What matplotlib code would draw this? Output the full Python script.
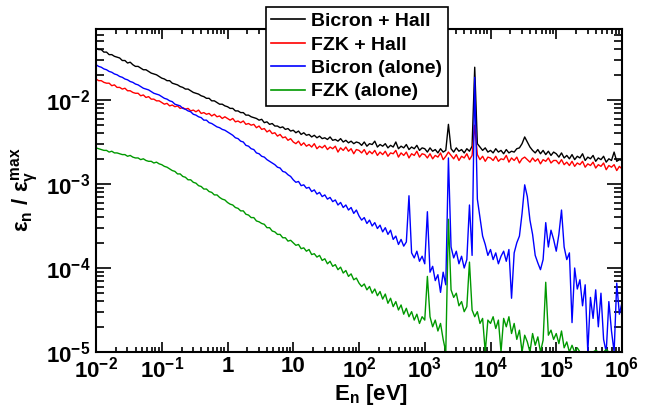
import numpy as np
import matplotlib
matplotlib.use('Agg')
import matplotlib.pyplot as plt
from matplotlib.ticker import FixedLocator, FixedFormatter, LogLocator, NullFormatter

plt.rcParams['font.family'] = ['Liberation Sans', 'DejaVu Sans']
plt.rcParams['font.weight'] = 'bold'
plt.rcParams['mathtext.fontset'] = 'custom'
plt.rcParams['mathtext.rm'] = 'Liberation Sans:bold'
plt.rcParams['mathtext.bf'] = 'Liberation Sans:bold'
plt.rcParams['mathtext.it'] = 'Liberation Sans'

# histogram binning: 25 log bins per decade, 1e-2 .. 1e6 eV
log_e = np.linspace(-2, 6, 201)

# log10(eps_n / eps_gamma_max), one row per decade
bicron_hall = [
    -1.38, -1.40, -1.40, -1.43, -1.43, -1.46, -1.46, -1.48, -1.49, -1.50, -1.53, -1.53, -1.56, -1.55, -1.58, -1.60, -1.60, -1.62, -1.64, -1.64, -1.66, -1.68, -1.69, -1.70, -1.72,
    -1.74, -1.75, -1.77, -1.77, -1.80, -1.81, -1.82, -1.84, -1.85, -1.87, -1.87, -1.89, -1.91, -1.92, -1.93, -1.95, -1.96, -1.98, -1.98, -2.01, -2.01, -2.03, -2.05, -2.05, -2.07,
    -2.08, -2.10, -2.10, -2.13, -2.13, -2.15, -2.15, -2.18, -2.18, -2.20, -2.21, -2.22, -2.24, -2.23, -2.27, -2.26, -2.29, -2.28, -2.31, -2.31, -2.33, -2.32, -2.35, -2.34, -2.37,
    -2.36, -2.39, -2.37, -2.41, -2.39, -2.42, -2.41, -2.44, -2.42, -2.45, -2.43, -2.46, -2.45, -2.47, -2.44, -2.48, -2.47, -2.49, -2.46, -2.50, -2.48, -2.51, -2.49, -2.52, -2.50,
    -2.51, -2.54, -2.50, -2.55, -2.52, -2.53, -2.49, -2.56, -2.53, -2.55, -2.52, -2.57, -2.54, -2.56, -2.50, -2.58, -2.55, -2.57, -2.53, -2.59, -2.56, -2.58, -2.54, -2.60, -2.57,
    -2.58, -2.62, -2.57, -2.61, -2.59, -2.63, -2.58, -2.62, -2.60, -2.29, -2.58, -2.62, -2.57, -2.61, -2.59, -2.63, -2.58, -2.61, -2.55, -1.61, -2.52, -2.56, -2.60, -2.57, -2.62,
    -2.60, -2.63, -2.58, -2.62, -2.60, -2.64, -2.59, -2.63, -2.61, -2.62, -2.58, -2.57, -2.52, -2.44, -2.50, -2.56, -2.60, -2.63, -2.59, -2.64, -2.60, -2.65, -2.61, -2.66, -2.62,
    -2.64, -2.68, -2.63, -2.69, -2.66, -2.70, -2.65, -2.71, -2.67, -2.69, -2.64, -2.72, -2.68, -2.70, -2.66, -2.73, -2.69, -2.71, -2.67, -2.74, -2.70, -2.72, -2.62, -2.73, -2.71,
    -2.72]

fzk_hall = [
    -1.75, -1.77, -1.77, -1.79, -1.80, -1.80, -1.83, -1.82, -1.85, -1.85, -1.87, -1.86, -1.89, -1.89, -1.91, -1.92, -1.92, -1.95, -1.94, -1.97, -1.96, -1.99, -1.99, -2.01, -2.01,
    -2.03, -2.05, -2.04, -2.07, -2.06, -2.08, -2.07, -2.10, -2.09, -2.11, -2.10, -2.13, -2.12, -2.14, -2.12, -2.16, -2.15, -2.17, -2.16, -2.19, -2.17, -2.20, -2.19, -2.22, -2.20,
    -2.22, -2.24, -2.22, -2.26, -2.25, -2.27, -2.25, -2.29, -2.28, -2.30, -2.29, -2.33, -2.31, -2.35, -2.34, -2.38, -2.36, -2.40, -2.39, -2.43, -2.41, -2.45, -2.44, -2.48, -2.46,
    -2.50, -2.52, -2.49, -2.54, -2.51, -2.55, -2.53, -2.56, -2.52, -2.58, -2.55, -2.57, -2.54, -2.59, -2.56, -2.58, -2.55, -2.62, -2.57, -2.60, -2.56, -2.61, -2.58, -2.64, -2.59,
    -2.60, -2.63, -2.59, -2.65, -2.61, -2.64, -2.60, -2.66, -2.62, -2.65, -2.61, -2.67, -2.63, -2.64, -2.60, -2.68, -2.63, -2.66, -2.62, -2.69, -2.64, -2.66, -2.61, -2.68, -2.64,
    -2.65, -2.69, -2.64, -2.70, -2.66, -2.68, -2.63, -2.71, -2.67, -2.62, -2.66, -2.70, -2.65, -2.72, -2.67, -2.69, -2.64, -2.71, -2.66, -2.30, -2.65, -2.71, -2.67, -2.73, -2.68,
    -2.69, -2.72, -2.67, -2.73, -2.70, -2.71, -2.66, -2.74, -2.69, -2.72, -2.68, -2.75, -2.70, -2.68, -2.71, -2.74, -2.69, -2.73, -2.70, -2.76, -2.71, -2.73, -2.69, -2.75, -2.72,
    -2.72, -2.76, -2.71, -2.77, -2.74, -2.78, -2.73, -2.79, -2.75, -2.77, -2.73, -2.80, -2.76, -2.78, -2.74, -2.81, -2.77, -2.79, -2.75, -2.83, -2.78, -2.80, -2.77, -2.84, -2.79,
    -2.82]

bicron_alone = [
    -1.58, -1.60, -1.61, -1.63, -1.64, -1.66, -1.67, -1.69, -1.70, -1.72, -1.73, -1.75, -1.76, -1.78, -1.79, -1.81, -1.82, -1.84, -1.86, -1.87, -1.88, -1.90, -1.92, -1.93, -1.94,
    -1.96, -1.98, -1.99, -2.01, -2.02, -2.05, -2.06, -2.07, -2.10, -2.11, -2.13, -2.14, -2.17, -2.18, -2.20, -2.21, -2.24, -2.24, -2.27, -2.28, -2.30, -2.32, -2.33, -2.35, -2.36,
    -2.38, -2.40, -2.42, -2.45, -2.46, -2.49, -2.50, -2.54, -2.55, -2.58, -2.59, -2.63, -2.64, -2.67, -2.68, -2.71, -2.73, -2.75, -2.77, -2.80, -2.81, -2.85, -2.86, -2.89, -2.91,
    -2.95, -2.98, -2.97, -3.02, -3.01, -3.05, -3.04, -3.09, -3.07, -3.12, -3.10, -3.15, -3.13, -3.18, -3.16, -3.21, -3.19, -3.25, -3.22, -3.28, -3.25, -3.31, -3.28, -3.35, -3.31,
    -3.38, -3.43, -3.40, -3.47, -3.43, -3.50, -3.46, -3.53, -3.49, -3.57, -3.52, -3.60, -3.55, -3.66, -3.62, -3.72, -3.66, -3.74, -3.69, -3.14, -3.82, -3.88, -3.80, -3.92, -3.86,
    -3.95, -3.33, -4.05, -3.98, -4.15, -4.08, -4.29, -4.05, -4.20, -2.69, -3.75, -3.88, -3.80, -3.95, -3.86, -4.00, -3.90, -3.25, -3.85, -1.73, -3.18, -3.40, -3.62, -3.72, -3.85,
    -3.78, -3.90, -3.82, -3.95, -3.86, -3.80, -3.92, -3.78, -4.36, -3.82, -3.70, -3.62, -3.35, -3.01, -3.15, -3.43, -3.60, -3.85, -3.94, -4.02, -3.90, -3.46, -3.75, -3.55, -3.66,
    -3.80, -3.60, -3.31, -3.75, -3.90, -3.82, -4.65, -4.00, -4.25, -4.14, -4.45, -4.20, -5.10, -4.35, -4.60, -4.26, -4.70, -4.30, -4.85, -5.20, -4.40, -4.75, -5.10, -4.18, -4.55,
    -4.41]

fzk_alone = [
    -2.57, -2.58, -2.59, -2.60, -2.60, -2.62, -2.61, -2.63, -2.63, -2.64, -2.65, -2.65, -2.67, -2.66, -2.68, -2.69, -2.69, -2.71, -2.70, -2.72, -2.73, -2.73, -2.75, -2.74, -2.76,
    -2.77, -2.79, -2.80, -2.82, -2.84, -2.85, -2.88, -2.88, -2.91, -2.92, -2.95, -2.95, -2.98, -2.99, -3.02, -3.03, -3.06, -3.06, -3.09, -3.10, -3.13, -3.13, -3.16, -3.18, -3.19,
    -3.22, -3.24, -3.25, -3.28, -3.29, -3.32, -3.32, -3.36, -3.37, -3.40, -3.40, -3.44, -3.45, -3.47, -3.48, -3.52, -3.52, -3.56, -3.57, -3.60, -3.60, -3.64, -3.64, -3.68, -3.67,
    -3.70, -3.73, -3.72, -3.77, -3.76, -3.80, -3.78, -3.84, -3.83, -3.87, -3.85, -3.91, -3.89, -3.95, -3.92, -3.98, -3.96, -4.02, -3.99, -4.06, -4.03, -4.10, -4.07, -4.14, -4.12,
    -4.18, -4.22, -4.19, -4.26, -4.22, -4.30, -4.25, -4.33, -4.28, -4.37, -4.31, -4.42, -4.36, -4.46, -4.40, -4.50, -4.44, -4.55, -4.48, -4.58, -4.52, -4.62, -4.55, -4.66, -4.58,
    -4.62, -4.10, -4.58, -4.70, -4.62, -4.75, -4.66, -4.85, -5.10, -3.42, -4.26, -4.35, -4.30, -4.45, -4.40, -4.52, -4.46, -3.93, -4.50, -4.58, -4.52, -4.66, -4.60, -5.10, -4.62,
    -4.66, -4.58, -4.72, -4.62, -5.05, -4.60, -4.70, -4.58, -4.78, -4.66, -4.85, -4.74, -5.10, -4.80, -4.88, -5.05, -4.78, -4.92, -4.82, -5.10, -4.86, -4.17, -4.80, -4.74, -4.85,
    -4.78, -4.90, -4.75, -4.95, -4.88, -5.08, -4.92, -5.12, -4.95, -5.20, -5.30, -5.10, -5.40, -5.25, -5.50, -4.98, -5.40, -5.30, -5.60, -4.97, -5.50, -5.40, -5.60, -5.50, -5.70,
    -5.60]

labels = ['Bicron + Hall', 'FZK + Hall', 'Bicron (alone)', 'FZK (alone)']
colors = ['black', '#ff0000', '#0000ff', '#009900']

x_ticks = [1e-2, 1e-1, 1, 10, 1e2, 1e3, 1e4, 1e5, 1e6]
x_ticklabels = [r'$10^{-2}$', r'$10^{-1}$', '1', '10', r'$10^{2}$', r'$10^{3}$',
                r'$10^{4}$', r'$10^{5}$', r'$10^{6}$']
y_ticks = [1e-5, 1e-4, 1e-3, 1e-2]
y_ticklabels = [r'$10^{-5}$', r'$10^{-4}$', r'$10^{-3}$', r'$10^{-2}$']

fig = plt.figure(figsize=(6.6, 4.05), dpi=100)
ax = fig.add_axes([96/660, 53/405, 526/660, 323/405])

energy = 10**log_e
for vals, col, lab in zip([bicron_hall, fzk_hall, bicron_alone, fzk_alone], colors, labels):
    # ROOT draws values under the frame along the bottom edge
    eff = np.clip(10**np.array(vals), 1e-5, None)
    ax.plot(energy, eff, color=col, lw=1.0, label=lab)

ax.set_xscale('log')
ax.set_yscale('log')
ax.set_xlim(1e-2, 1e6)
ax.set_ylim(1e-5, 7e-2)

ax.xaxis.set_major_locator(FixedLocator(x_ticks))
ax.xaxis.set_major_formatter(FixedFormatter(x_ticklabels))
ax.yaxis.set_major_locator(FixedLocator(y_ticks))
ax.yaxis.set_major_formatter(FixedFormatter(y_ticklabels))
ax.xaxis.set_minor_locator(LogLocator(base=10, subs=np.arange(2, 10), numticks=20))
ax.yaxis.set_minor_locator(LogLocator(base=10, subs=np.arange(2, 10), numticks=20))
ax.xaxis.set_minor_formatter(NullFormatter())
ax.yaxis.set_minor_formatter(NullFormatter())

ax.tick_params(which='both', direction='in', top=True, right=True, width=1.2, labelsize=16)
ax.tick_params(axis='x', which='major', length=7, pad=3)
ax.tick_params(axis='x', which='minor', length=3.5)
ax.tick_params(axis='y', which='major', length=11, pad=4)
ax.tick_params(axis='y', which='minor', length=5.5)
for s in ax.spines.values():
    s.set_linewidth(1.5)

fig.text(371/660, 1 - 400/405, r'$\mathbf{E_{n}}$ [eV]', ha='center', va='baseline', fontsize=16)
fig.text(25/660, 1 - 190/405,
         r'$\varepsilon_{\mathbf{n}}\ \mathbf{/}\ \varepsilon_{\gamma}^{\mathbf{max}}$',
         ha='center', va='center', rotation=90, fontsize=16)

leg = ax.legend(loc='upper left', bbox_to_anchor=(266/660, 1 - 7/405),
                bbox_transform=fig.transFigure, fontsize=14, frameon=True,
                fancybox=False, framealpha=1, edgecolor='black', borderpad=0.28,
                handlelength=1.75, handletextpad=0.3, labelspacing=0.3, borderaxespad=0)
leg.get_frame().set_linewidth(1.2)
for line in leg.get_lines():
    line.set_linewidth(1.2)

fig.savefig('out.png', dpi=100)
